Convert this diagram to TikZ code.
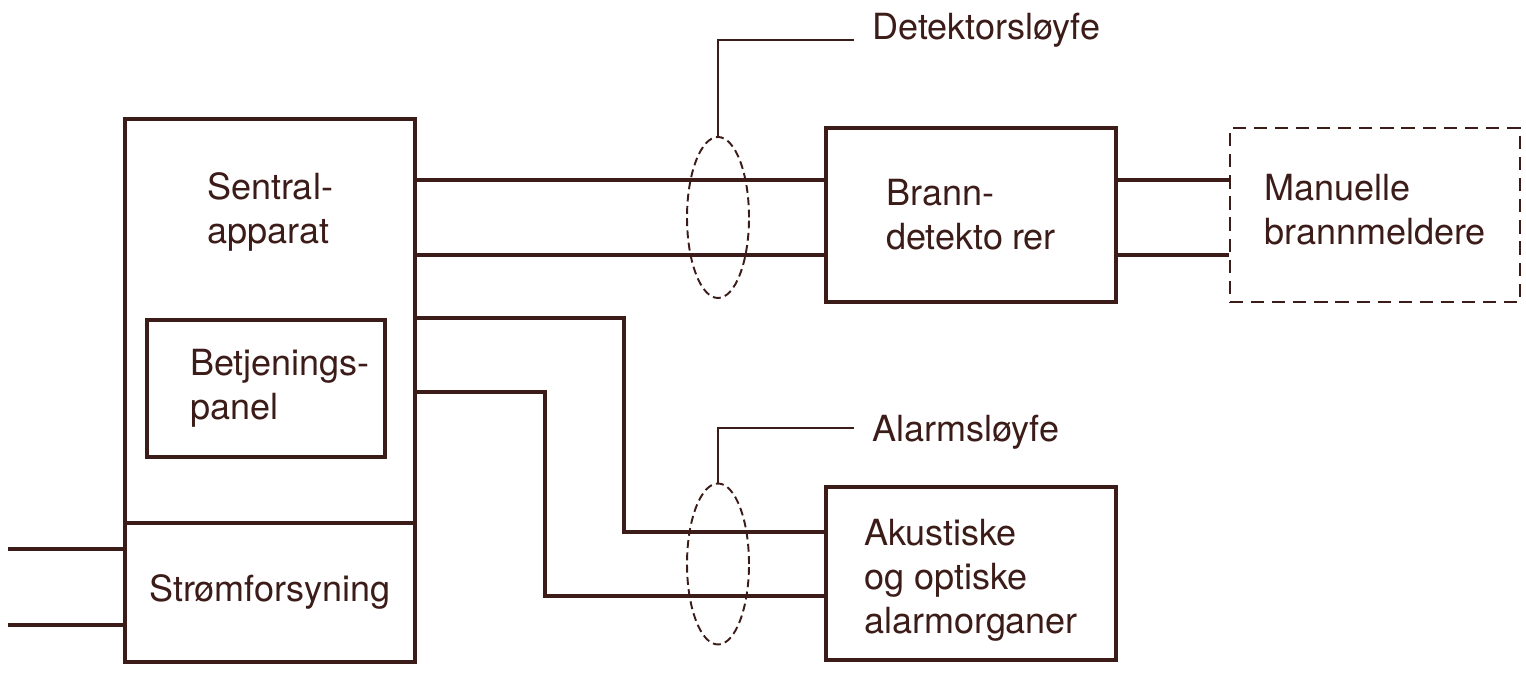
\documentclass[tikz,border=0pt]{standalone}
\usepackage{fontspec}
\setmainfont{TeX Gyre Heros}
\usepackage{tikz}
\usetikzlibrary{calc,positioning,shapes,backgrounds}
\definecolor{ink}{RGB}{60,28,24}

\begin{document}
\begin{tikzpicture}[
		every node/.style={text=ink,font=\fontsize{20.5pt}{25pt}\selectfont},
		box/.style={draw=ink,line width=2pt,minimum width=5.8cm,inner sep=0pt},
		wire/.style={draw=ink,line width=2pt},
		lead/.style={draw=ink,line width=1.1pt},
		ring/.style={shape=ellipse,draw=ink,line width=1.1pt,dash pattern=on 4.5pt off 2.5pt,minimum width=1.24cm,minimum height=3.22cm,inner sep=0pt}]
		\useasboundingbox (0,0) rectangle (30.52,13.48);
		% blocks
		\node(sentral) [box,minimum height=10.86cm] at (5.4,5.67) {};
		\node(panel) [box,minimum width=4.76cm,minimum height=2.74cm] at (5.32,5.71) {};
		\node(brann) [box,minimum height=3.48cm,align=left] at (19.42,9.18) {Brann-\\detekto\kern0.25em rer};
		\node(manuell) [box,right=2.22cm of brann,line width=1.4pt,dash pattern=on 7.5pt off 4.5pt,minimum height=3.48cm] {};
		\node(alarm) [box,minimum height=3.46cm] at (19.42,2.01) {};
		\node(sentraltxt) [align=left] at ($(sentral.north)+(0,-1.9)$) {Sentral-\\apparat};
		\node(paneltxt) [align=left] at ($(panel.center)+(0.28,0)$) {Betjenings-\\panel};
		\node(manuelltxt) [align=left] at ($(manuell.center)+(0,0.1)$) {Manuelle\\brannmeldere};
		\node(alarmtxt) [align=left] at ($(alarm.center)+(0,-0.14)$) {Akustiske\\og optiske\\alarmorganer};
		\draw[wire] ([yshift=2.82cm]sentral.south west) -- ([yshift=2.82cm]sentral.south east);
		\node(kraft) at ($(sentral.south)+(0,1.44)$) {Strømforsyning};
		% supply
		\coordinate (in1) at (0.16,2.5);
		\coordinate (in2) at (0.16,0.98);
		\draw[wire] (in1) -- (in1 -| sentral.west);
		\draw[wire] (in2) -- (in2 -| sentral.west);
		% detector loop
		\coordinate (d1) at ([yshift=-1.08cm]brann.north west);
		\coordinate (d2) at ([yshift=0.98cm]brann.south west);
		\draw[wire] (sentral.east |- d1) -- (d1);
		\draw[wire] (sentral.east |- d2) -- (d2);
		\draw[wire] (brann.east |- d1) -- (manuell.west |- d1);
		\draw[wire] (brann.east |- d2) -- (manuell.west |- d2);
		% alarm loop
		\coordinate (a1) at ([yshift=-0.94cm]alarm.north west);
		\coordinate (a2) at ([yshift=1.32cm]alarm.south west);
		\coordinate (p2) at ([yshift=-0.07cm]panel.east);
		\draw[wire] (sentral.east |- panel.north) -- ++(4.14,0) |- (a1);
		\draw[wire] (sentral.east |- p2) -- ++(2.56,0) |- (a2);
		% loop marks
		\node(ring1) [ring] at (14.36,9.13) {};
		\node(ring2) [ring] at (14.36,2.2) {};
		\node(dlabel) [anchor=base west,inner sep=0pt] at (17.44,12.68) {Detektorsløyfe};
		\node(alabel) [anchor=base west,inner sep=0pt] at (17.44,4.64) {Alarmsløyfe};
		\draw[lead] (ring1.north) |- ([xshift=-0.36cm]dlabel.base west);
		\draw[lead] (ring2.north) |- ([xshift=-0.36cm,yshift=0.28cm]alabel.base west);
	\end{tikzpicture}
\end{document}
